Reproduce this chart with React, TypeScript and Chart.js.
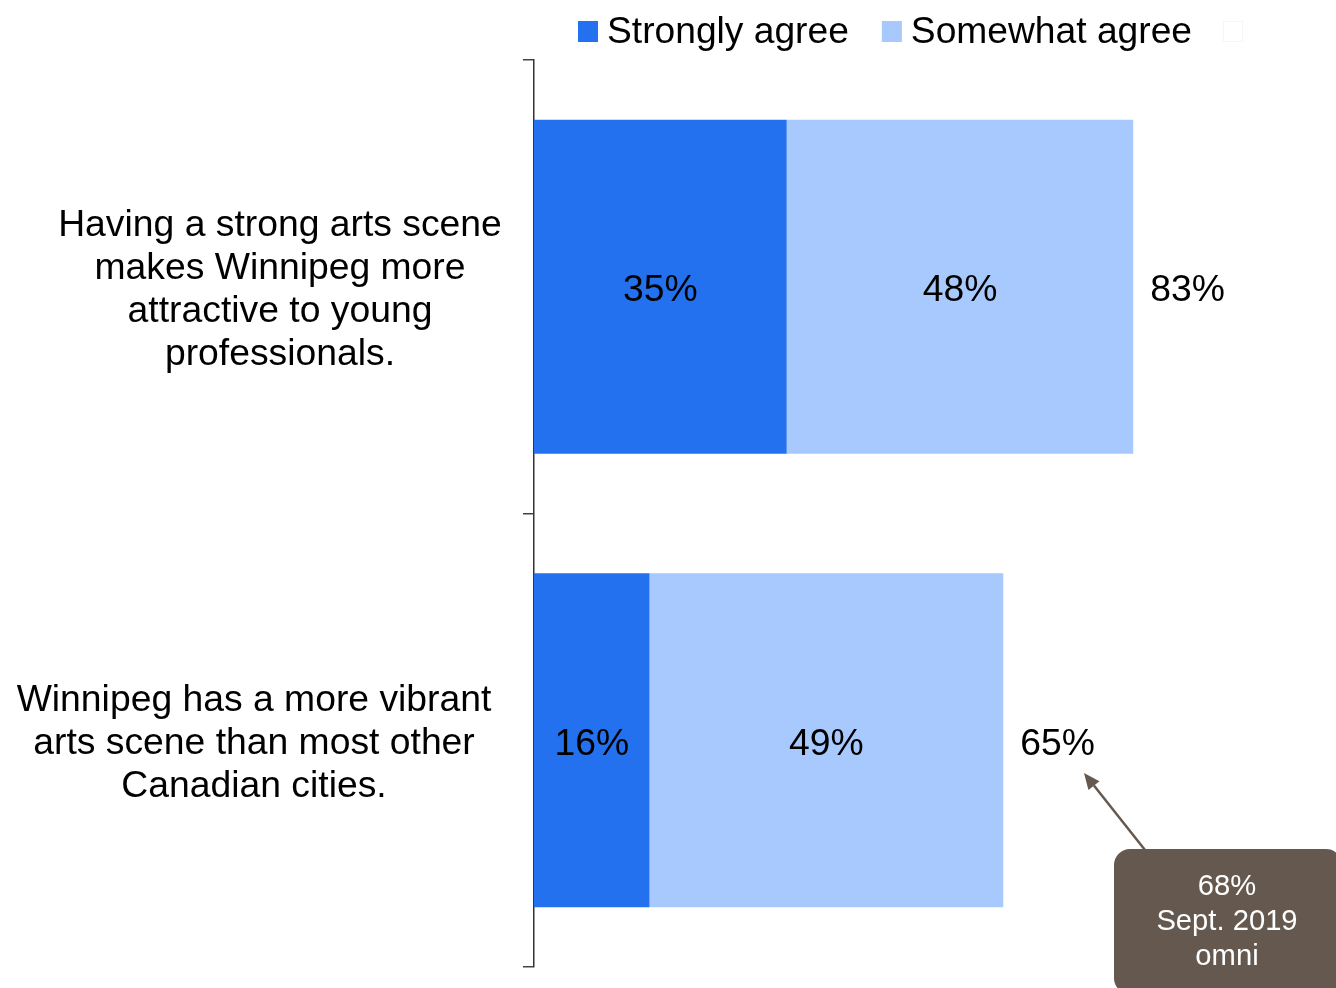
import React, { useEffect, useRef } from "react";
import { Chart, registerables } from "chart.js";

Chart.register(...registerables);

const categories: string[][] = [
  ["Having a strong arts scene", "makes Winnipeg more", "attractive to young", "professionals."],
  ["Winnipeg has a more vibrant", "arts scene than most other", "Canadian cities."],
];
const seriesLabels = ["Strongly agree", "Somewhat agree"];
const stronglyAgree = [35, 16];
const somewhatAgree = [48, 49];
const totals = [83, 65];
const annotationLines = ["68%", "Sept. 2019", "omni"];

const DARK = "#2371EE";
const LIGHT = "#A7C9FE";
const BROWN = "#65594F";
const FONT = "'Liberation Sans', Arial, sans-serif";

const labelCenters = [280, 254];
const DY = 3;

const customDraw = {
  id: "customDraw",
  afterDraw(chart: any) {
    const ctx = chart.ctx as CanvasRenderingContext2D;
    const xs = chart.scales.x;
    const ys = chart.scales.y;
    ctx.save();
    // category labels
    ctx.fillStyle = "#000";
    ctx.font = `37.3px ${FONT}`;
    ctx.textAlign = "center";
    ctx.textBaseline = "middle";
    categories.forEach((lines, i) => {
      const cy = ys.getPixelForValue(i) + DY;
      const lh = 43;
      const start = cy - ((lines.length - 1) * lh) / 2;
      lines.forEach((ln, j) => ctx.fillText(ln, labelCenters[i], start + j * lh));
    });
    // segment labels
    chart.data.datasets.forEach((ds: any, di: number) => {
      const meta = chart.getDatasetMeta(di);
      meta.data.forEach((el: any, i: number) => {
        const v = ds.data[i];
        ctx.fillText(`${v}%`, (el.x + el.base) / 2, el.y + DY + 1);
      });
    });
    // totals
    ctx.textAlign = "left";
    totals.forEach((t, i) => {
      ctx.fillText(`${t}%`, xs.getPixelForValue(t) + 17, ys.getPixelForValue(i) + DY + 1);
    });
    // legend
    let x = 578;
    const ly = 31;
    const colors = [DARK, LIGHT];
    ctx.font = `37.2px ${FONT}`;
    seriesLabels.forEach((lab, i) => {
      ctx.fillStyle = colors[i];
      ctx.fillRect(x, ly - 10, 20, 21);
      ctx.fillStyle = "#000";
      ctx.textAlign = "left";
      ctx.fillText(lab, x + 29, ly + 2);
      x += 29 + ctx.measureText(lab).width + 33;
    });
    ctx.strokeStyle = "#f6f6f6";
    ctx.lineWidth = 1;
    ctx.strokeRect(x - 1.5, ly - 9.5, 19, 20);
    // annotation arrow
    ctx.strokeStyle = BROWN;
    ctx.fillStyle = BROWN;
    ctx.lineWidth = 2.5;
    const x1 = 1145, y1 = 850, x2 = 1084, y2 = 773;
    const ang = Math.atan2(y2 - y1, x2 - x1);
    const hl = 16, hw = 7;
    const bx = x2 - hl * Math.cos(ang), by = y2 - hl * Math.sin(ang);
    ctx.beginPath();
    ctx.moveTo(x1, y1);
    ctx.lineTo(bx, by);
    ctx.stroke();
    ctx.beginPath();
    ctx.moveTo(x2, y2);
    ctx.lineTo(bx + hw * Math.sin(ang), by - hw * Math.cos(ang));
    ctx.lineTo(bx - hw * Math.sin(ang), by + hw * Math.cos(ang));
    ctx.closePath();
    ctx.fill();
    // annotation box
    ctx.beginPath();
    (ctx as any).roundRect(1114, 849, 228, 145, 16);
    ctx.fill();
    ctx.fillStyle = "#fff";
    ctx.font = `29.2px ${FONT}`;
    ctx.textAlign = "center";
    annotationLines.forEach((ln, j) => ctx.fillText(ln, 1227, 887 + j * 35));
    ctx.restore();
  },
};

export default function App() {
  const ref = useRef<HTMLCanvasElement>(null);
  useEffect(() => {
    const chart = new Chart(ref.current!, {
      type: "bar",
      data: {
        labels: categories.map((c) => c.join(" ")),
        datasets: [
          { label: seriesLabels[0], data: stronglyAgree, backgroundColor: DARK, borderWidth: 0 },
          { label: seriesLabels[1], data: somewhatAgree, backgroundColor: LIGHT, borderWidth: 0 },
        ],
      },
      options: {
        indexAxis: "y",
        animation: false,
        responsive: false,
        maintainAspectRatio: false,
        layout: { padding: { top: 60, bottom: 21, right: 80, left: 0 } },
        datasets: { bar: { barPercentage: 0.737, categoryPercentage: 1 } },
        plugins: { legend: { display: false }, tooltip: { enabled: false } },
        scales: {
          x: { stacked: true, min: 0, max: 100, display: false },
          y: {
            stacked: true,
            offset: true,
            grid: { offset: true, drawOnChartArea: false, drawTicks: true, tickLength: 11, color: "#444", lineWidth: 1.5 },
            border: { display: true, color: "#333", width: 1.5 },
            ticks: { display: false },
            afterFit: (s: any) => {
              s.width = 534;
            },
          },
        },
      } as any,
      plugins: [customDraw],
    });
    return () => chart.destroy();
  }, []);
  return (
    <div style={{ position: "absolute", left: 0, top: 0, width: 1336, height: 988 }}>
      <canvas ref={ref} width={1336} height={988} style={{ width: 1336, height: 988 }} />
    </div>
  );
}
